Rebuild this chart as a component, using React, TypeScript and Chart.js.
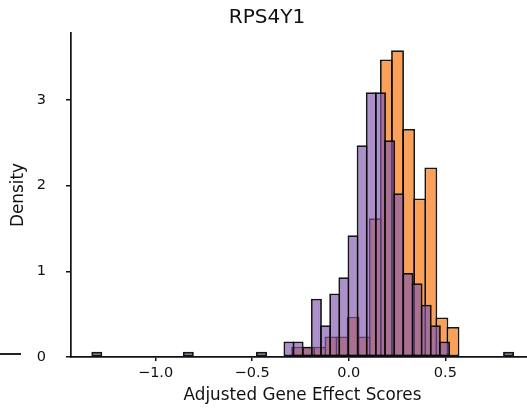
import React, { useEffect, useRef } from "react";
import { Chart, registerables } from "chart.js";

Chart.register(...registerables);

const chartTitle = "RPS4Y1";
const xAxisTitle = "Adjusted Gene Effect Scores";
const yAxisTitle = "Density";

const xTickValues = [-1.0, -0.5, 0.0, 0.5];
const yTickValues = [0, 1, 2, 3];
const xRange = [-1.438, 0.959];
const yRange = [0, 3.78];

// Purple histogram (drawn on top): first bin edge, bin width, density per bin
const purpleBinStart = -1.328;
const purpleBinWidth = 0.04737;
const purpleDensity = [
  0.06, 0, 0, 0, 0, 0, 0, 0, 0, 0,
  0.06, 0, 0, 0, 0, 0, 0, 0,
  0.06, 0, 0,
  0.18, 0.18, 0.12, 0.68, 0.37, 0.74, 0.93, 1.42, 2.47, 3.09, 3.09, 2.53, 1.91, 0.98, 0.86, 0.61, 0.37, 0.18,
  0, 0, 0, 0, 0, 0,
  0.06,
];

// Orange histogram (drawn underneath)
const orangeBinStart = -0.2933;
const orangeBinWidth = 0.05745;
const orangeDensity = [
  0.12, 0.12, 0.12, 0.24, 0.24, 0.47, 0.24, 1.62, 3.47, 3.58, 2.66, 1.85, 2.21, 0.46, 0.35,
];

const FONT = "'DejaVu Sans', 'Liberation Sans', sans-serif";
const TEXT = "#111";
const EDGE = "rgba(10,10,10,0.95)";

export default function App() {
  const ref = useRef<HTMLCanvasElement>(null);

  useEffect(() => {
    if (!ref.current) return;
    const purpleData = purpleDensity.map((d, i) => ({
      x: purpleBinStart + (i + 0.5) * purpleBinWidth,
      y: d,
    }));
    const orangeData = orangeDensity.map((d, i) => ({
      x: orangeBinStart + (i + 0.5) * orangeBinWidth,
      y: d,
    }));

    const fmt = (v: number | string) => Number(v).toFixed(1).replace("-", "\u2212");

    const chart = new Chart(ref.current, {
      type: "bar",
      data: {
        datasets: [
          {
            label: "purple",
            data: purpleData as any,
            xAxisID: "x",
            grouped: false,
            backgroundColor: "rgba(128,86,174,0.66)",
            borderColor: EDGE,
            borderWidth: 1.8,
            borderSkipped: false,
            barPercentage: 1.2,
            categoryPercentage: 1,
            order: 0,
          },
          {
            label: "orange",
            data: orangeData as any,
            xAxisID: "x2",
            grouped: false,
            backgroundColor: "rgb(251,160,88)",
            borderColor: EDGE,
            borderWidth: 1.8,
            borderSkipped: false,
            barPercentage: 1.16,
            categoryPercentage: 1,
            order: 1,
          },
        ],
      },
      options: {
        responsive: false,
        maintainAspectRatio: false,
        animation: false,
        layout: { padding: 0 },
        plugins: {
          legend: { display: false },
          tooltip: { enabled: false },
          title: {
            display: true,
            text: chartTitle,
            color: TEXT,
            font: { family: FONT, size: 20, weight: "normal" },
            padding: { top: 6, bottom: 3 },
          },
        },
        scales: {
          x: {
            type: "linear",
            min: xRange[0],
            max: xRange[1],
            offset: false,
            afterBuildTicks: (s: any) => {
              s.ticks = xTickValues.map((value) => ({ value }));
            },
            afterFit: (s: any) => {
              s.height = 51;
            },
            ticks: {
              callback: (v: any) => fmt(v),
              color: TEXT,
              font: { family: FONT, size: 14.5 },
              padding: 4,
              maxRotation: 0,
              autoSkip: false,
            },
            grid: {
              display: true,
              drawOnChartArea: false,
              drawTicks: true,
              tickLength: 4,
              color: "#111",
              lineWidth: 1.5,
              offset: false,
            },
            border: { display: true, color: "#111", width: 1.7 },
            title: {
              display: true,
              text: xAxisTitle,
              color: TEXT,
              font: { family: FONT, size: 16.8 },
              padding: { top: 0, bottom: 2 },
            },
          },
          x2: {
            type: "linear",
            display: false,
            min: xRange[0],
            max: xRange[1],
            offset: false,
            grid: { offset: false },
          },
          y: {
            type: "linear",
            min: yRange[0],
            max: yRange[1],
            afterBuildTicks: (s: any) => {
              s.ticks = yTickValues.map((value) => ({ value }));
            },
            afterFit: (s: any) => {
              s.width = 71;
            },
            ticks: {
              callback: (v: any) => String(v),
              color: TEXT,
              font: { family: FONT, size: 14.5 },
              padding: 20,
            },
            grid: {
              display: true,
              drawOnChartArea: false,
              drawTicks: true,
              tickLength: 5,
              color: "#111",
              lineWidth: 1.5,
            },
            border: { display: true, color: "#111", width: 1.7 },
            title: {
              display: true,
              text: yAxisTitle,
              color: TEXT,
              font: { family: FONT, size: 16.8 },
              padding: { top: 9, bottom: 0 },
            },
          },
        },
      },
    });
    return () => chart.destroy();
  }, []);

  return (
    <div
      style={{
        position: "fixed",
        left: 0,
        top: 0,
        width: 527,
        height: 408,
        overflow: "hidden",
        background: "#fff",
      }}
    >
      <canvas
        ref={ref}
        width={534}
        height={408}
        style={{ position: "absolute", left: 0, top: 0, width: 534, height: 408 }}
      />
      <div
        style={{
          position: "absolute",
          left: 0,
          top: 353,
          width: 21,
          height: 2,
          background: "#222",
        }}
      />
    </div>
  );
}
